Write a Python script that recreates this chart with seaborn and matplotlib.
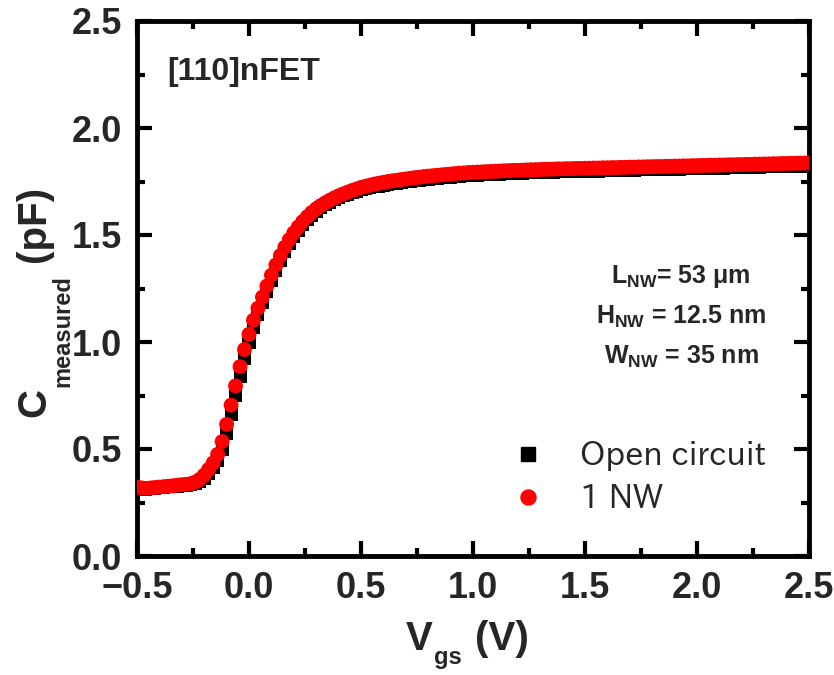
import numpy as np
import pandas as pd
import matplotlib
matplotlib.use("Agg")
import matplotlib.pyplot as plt
import seaborn as sns
from matplotlib.ticker import MultipleLocator
from matplotlib.lines import Line2D

# ---------------- data ----------------
vgs = [round(-0.5 + 0.02 * i, 2) for i in range(151)]

c_nw = [
    0.322, 0.318, 0.316, 0.318, 0.320, 0.322, 0.324, 0.326, 0.328, 0.331,
    0.333, 0.335, 0.338, 0.345, 0.358, 0.378, 0.405, 0.435, 0.475, 0.535,
    0.615, 0.705, 0.795, 0.885, 0.965, 1.036, 1.102, 1.158, 1.210, 1.262,
    1.312, 1.360, 1.404, 1.443, 1.478, 1.510, 1.538, 1.563, 1.585, 1.605,
    1.622, 1.637, 1.650, 1.662, 1.673, 1.683, 1.692, 1.700, 1.708, 1.715,
    1.722, 1.728, 1.733, 1.738, 1.742, 1.746, 1.750, 1.753, 1.756, 1.759,
    1.762, 1.765, 1.768, 1.770, 1.773, 1.775, 1.777, 1.779, 1.781, 1.783,
    1.785, 1.787, 1.789, 1.790, 1.792, 1.793, 1.794, 1.795, 1.796, 1.797,
    1.798, 1.799, 1.800, 1.801, 1.802, 1.802, 1.803, 1.804, 1.805, 1.805,
    1.806, 1.807, 1.807, 1.808, 1.809, 1.809, 1.810, 1.810, 1.811, 1.811,
    1.812, 1.812, 1.813, 1.813, 1.814, 1.814, 1.815, 1.815, 1.816, 1.816,
    1.817, 1.817, 1.818, 1.818, 1.819, 1.819, 1.820, 1.820, 1.821, 1.821,
    1.822, 1.822, 1.823, 1.823, 1.824, 1.824, 1.825, 1.825, 1.826, 1.826,
    1.827, 1.827, 1.828, 1.828, 1.829, 1.829, 1.830, 1.830, 1.831, 1.831,
    1.832, 1.832, 1.833, 1.833, 1.834, 1.834, 1.835, 1.835, 1.836, 1.836,
    1.837,
]

c_open = [
    0.318, 0.315, 0.313, 0.315, 0.317, 0.319, 0.321, 0.323, 0.325, 0.327,
    0.329, 0.331, 0.333, 0.338, 0.347, 0.362, 0.385, 0.412, 0.448, 0.500,
    0.572, 0.660, 0.750, 0.840, 0.925, 1.000, 1.070, 1.130, 1.185, 1.237,
    1.287, 1.335, 1.381, 1.422, 1.459, 1.493, 1.523, 1.549, 1.572, 1.593,
    1.611, 1.627, 1.641, 1.653, 1.664, 1.674, 1.683, 1.691, 1.698, 1.705,
    1.711, 1.716, 1.721, 1.725, 1.729, 1.733, 1.736, 1.739, 1.742, 1.745,
    1.748, 1.751, 1.754, 1.756, 1.759, 1.761, 1.763, 1.765, 1.767, 1.769,
    1.771, 1.773, 1.775, 1.776, 1.778, 1.779, 1.780, 1.781, 1.782, 1.783,
    1.784, 1.785, 1.786, 1.787, 1.788, 1.788, 1.789, 1.790, 1.791, 1.791,
    1.792, 1.793, 1.793, 1.794, 1.795, 1.795, 1.796, 1.796, 1.797, 1.797,
    1.798, 1.798, 1.799, 1.799, 1.800, 1.800, 1.801, 1.801, 1.802, 1.802,
    1.803, 1.803, 1.804, 1.804, 1.805, 1.805, 1.806, 1.806, 1.807, 1.807,
    1.808, 1.808, 1.809, 1.809, 1.810, 1.810, 1.811, 1.811, 1.812, 1.812,
    1.813, 1.813, 1.814, 1.814, 1.815, 1.815, 1.816, 1.816, 1.817, 1.817,
    1.818, 1.818, 1.819, 1.819, 1.820, 1.820, 1.821, 1.821, 1.822, 1.822,
    1.823,
]

series_names = ["Open circuit", "1 NW"]
xticks = [-0.5, 0.0, 0.5, 1.0, 1.5, 2.0, 2.5]
xticklabels = ["\u22120.5", "0.0", "0.5", "1.0", "1.5", "2.0", "2.5"]
yticks = [0.0, 0.5, 1.0, 1.5, 2.0, 2.5]
yticklabels = ["0.0", "0.5", "1.0", "1.5", "2.0", "2.5"]
annot_lines = [r"$\mathbf{L_{NW}}$= 53 μm",
               r"$\mathbf{H_{NW}}$ = 12.5 nm",
               r"$\mathbf{W_{NW}}$ = 35 nm"]
title_text = "[110]nFET"

# ---------------- style ----------------
sns.set_theme(style="ticks")
plt.rcParams["font.family"] = ["Liberation Sans", "DejaVu Sans"]
plt.rcParams["mathtext.fontset"] = "custom"
plt.rcParams["mathtext.rm"] = "Liberation Sans"
plt.rcParams["mathtext.bf"] = "Liberation Sans:bold"
plt.rcParams["mathtext.it"] = "Liberation Sans:italic"

W, H = 834, 675


def fx(px):
    return px / W


def fy(py):
    return 1 - py / H


df_open = pd.DataFrame({"Vgs": vgs, "C": c_open})
df_nw = pd.DataFrame({"Vgs": vgs, "C": c_nw})

fig = plt.figure(figsize=(W / 100, H / 100), dpi=100)
ax = fig.add_axes([fx(137), fy(556), (809 - 137) / W, (556 - 21) / H])

sns.scatterplot(data=df_open, x="Vgs", y="C", ax=ax, marker="s", s=88,
                color="black", edgecolor="none", linewidth=0, legend=False,
                zorder=3)
sns.scatterplot(data=df_nw, x="Vgs", y="C", ax=ax, marker="o", s=115,
                color="#ff0000", edgecolor="none", linewidth=0, legend=False,
                zorder=4)

ax.set_xlim(-0.5, 2.5)
ax.set_ylim(0.0, 2.5)
ax.set_xticks(xticks)
ax.set_yticks(yticks)
ax.xaxis.set_minor_locator(MultipleLocator(0.25))
ax.yaxis.set_minor_locator(MultipleLocator(0.25))
ax.set_xticklabels(xticklabels)
ax.set_yticklabels(yticklabels)
ax.set_xlabel("")
ax.set_ylabel("")

for sp in ax.spines.values():
    sp.set_linewidth(3.5)
    sp.set_color("black")
    sp.set_visible(True)

ax.tick_params(which="both", direction="in", top=True, right=True,
               color="black")
ax.tick_params(which="major", length=10.5, width=3, labelsize=26, pad=11)
ax.tick_params(which="minor", length=6, width=3)
for lab in ax.get_xticklabels() + ax.get_yticklabels():
    lab.set_fontweight("bold")

# ---- x label: V_gs (V) ----
BIG, SUB = 29, 17
tV = fig.text(fx(406), fy(650), "V", fontsize=BIG, fontweight="bold",
              ha="left", va="baseline")
tgs = ax.annotate("gs", xy=(1.0, fy(664)), xycoords=(tV, "figure fraction"),
                  xytext=(1, 0), textcoords="offset points", fontsize=SUB,
                  fontweight="bold", ha="left", va="baseline",
                  annotation_clip=False)
ax.annotate("(V)", xy=(1.0, fy(650)), xycoords=(tgs, "figure fraction"),
            xytext=(9, 0), textcoords="offset points", fontsize=BIG,
            fontweight="bold", ha="left", va="baseline",
            annotation_clip=False)

# ---- y label: C_measured (pF) ----
tC = fig.text(fx(45), fy(417), "C", fontsize=BIG, fontweight="bold",
              rotation=90, rotation_mode="anchor", ha="left", va="baseline")
tm = ax.annotate("measured", xy=(fx(69), 1.0), xycoords=("figure fraction", tC),
                 xytext=(0, 1), textcoords="offset points", fontsize=SUB,
                 fontweight="bold", rotation=90, rotation_mode="anchor",
                 ha="left", va="baseline", annotation_clip=False)
ax.annotate("(pF)", xy=(fx(45), 1.0), xycoords=("figure fraction", tm),
            xytext=(0, 9), textcoords="offset points", fontsize=BIG,
            fontweight="bold", rotation=90, rotation_mode="anchor",
            ha="left", va="baseline", annotation_clip=False)

# ---- in-plot texts ----
fig.text(fx(167), fy(80), title_text, fontsize=23, fontweight="bold",
         ha="left", va="baseline")

for i, (line, base) in enumerate(zip(annot_lines, [283, 324, 364])):
    fig.text(fx(681), fy(base), line, fontsize=18, fontweight="bold",
             ha="center", va="baseline")

# ---- legend ----
handles = [
    Line2D([], [], marker="s", color="black", linestyle="none", markersize=9.4),
    Line2D([], [], marker="o", color="#ff0000", linestyle="none", markersize=10.8),
]
leg = ax.legend(handles, series_names, loc="upper left",
                bbox_to_anchor=(fx(512.5), fy(441)), bbox_transform=fig.transFigure,
                frameon=False, borderpad=0, borderaxespad=0,
                prop={"family": ["IPAPGothic", "Noto Sans CJK JP", "DejaVu Sans"],
                      "size": 23},
                handletextpad=1.11, labelspacing=0.42, handlelength=1.0)

fig.savefig("out.png", dpi=100)
